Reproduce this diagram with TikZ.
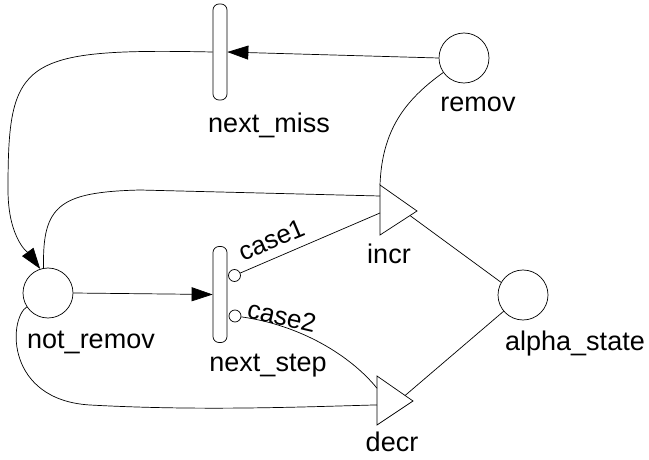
\documentclass[tikz,border=0pt]{standalone}
\usepackage{fontspec}
\setmainfont{Liberation Sans}
\usetikzlibrary{arrows.meta, calc}

\begin{document}
\begin{tikzpicture}[x=1pt, y=-1pt, line width=0.7pt,
  place/.style={draw, circle, minimum size=50pt, inner sep=0pt},
  trans/.style={draw, rectangle, rounded corners=6pt, minimum width=14pt,
                minimum height=96pt, inner sep=0pt},
  port/.style={draw, circle, fill=white, minimum size=12pt, inner sep=0pt},
  lbl/.style={font=\fontsize{27}{30}\selectfont, inner sep=0pt, anchor=base},
  tag/.style={font=\fontsize{26}{28}\selectfont, inner sep=0pt, anchor=base},
  arr/.style={-{Triangle[length=21pt, width=14pt]}}]

\useasboundingbox (0,0) rectangle (649,460);

% --- places ---
\node[place] (remov) at (464,58) {};
\node[place] (notremov) at (48,293) {};
\node[place] (alpha) at (523,295) {};

% --- transitions ---
\node[trans] (nextmiss) at (220,52) {};
\node[trans] (nextstep) at (220,294.5) {};

% --- actions (triangles) ---
\coordinate (incr-top) at (380,185);
\coordinate (incr-bot) at (380,235);
\coordinate (incr-tip) at (417,211);
\draw (incr-top) -- (incr-tip) -- (incr-bot) -- cycle;

\coordinate (decr-top) at (377,376);
\coordinate (decr-bot) at (377,425);
\coordinate (decr-tip) at (413,401);
\draw (decr-top) -- (decr-tip) -- (decr-bot) -- cycle;

% case ports on next_step
\node[port] (case1) at (234.5,275.5) {};
\node[port] (case2) at (235,316) {};

% --- labels ---
\node[lbl] (remov-lbl) at (478,112) {remov};
\node[lbl] (notremov-lbl) at (91,348) {not\_remov};
\node[lbl] (alpha-lbl) at (575,350) {alpha\_state};
\node[lbl] (nextmiss-lbl) at (269,133) {next\_miss};
\node[lbl] (nextstep-lbl) at (268,371) {next\_step};
\node[lbl] (incr-lbl) at (389,263) {incr};
\node[lbl] (decr-lbl) at (392,451) {decr};
\node[tag, rotate=23] (case1-lbl) at (275,248) {case1};
\node[tag, rotate=-13] (case2-lbl) at (280,325) {case2};

% --- arcs ---
\draw[arr] (remov.west) -- (nextmiss.east);
\draw[arr] (nextmiss.west) .. controls (20,48) and (8,60) .. (8,190)
           .. controls (8,240) and (30,255) .. (notremov.108);
\draw[arr] (notremov.east) -- (nextstep.west);
\draw (notremov.100) .. controls (42,205) and (60,192) .. (140,190)
      -- ($(incr-top)!0.22!(incr-bot)$);
\draw (case1) -- ($(incr-top)!0.56!(incr-bot)$);
\draw (remov.215) .. controls (405,100) and (382,130) .. (incr-top);
\draw (case2) .. controls (300,325) and (350,355)
      .. ($(decr-top)!0.25!(decr-bot)$);
\draw (notremov.213) .. controls (8,320) and (6,400) .. (90,405)
      .. controls (200,411) and (300,407)
      .. ($(decr-top)!0.59!(decr-bot)$);
\draw ($(incr-tip)!0.19!(incr-bot)$) -- (alpha.150);
\draw ($(decr-tip)!0.22!(decr-top)$) -- (alpha.220);

\end{tikzpicture}
\end{document}
